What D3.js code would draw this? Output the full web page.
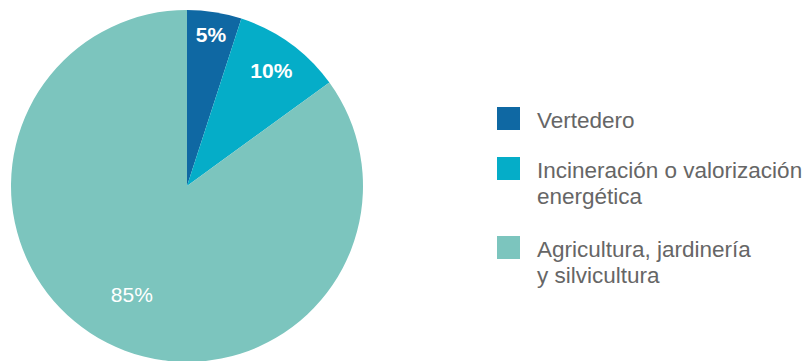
<!DOCTYPE html>
<html>
<head>
<meta charset="utf-8">
<script src="https://cdn.jsdelivr.net/npm/d3@7"></script>
<style>
  html, body { margin: 0; padding: 0; background: #fff; }
  svg { display: block; }
</style>
</head>
<body>
<svg id="chart" width="810" height="361"></svg>
<script>
// Destination shares (percent)
const categories = ["Vertedero", "Incineración o valorización energética", "Agricultura, jardinería y silvicultura"];
const values = [5, 10, 85];
const legendLines = [["Vertedero"], ["Incineración o valorización", "energética"], ["Agricultura, jardinería", "y silvicultura"]];
const colors = ["#0f68a3", "#05adc8", "#7cc5be"];

const svg = d3.select("#chart");
const cx = 187, cy = 186, radius = 176;
// radial position of each percentage label, as a fraction of the radius
const labelFrac = [0.87, 0.815, 0.69];
const labelBold = [true, true, false];

const pie = d3.pie().sort(null).value(d => d)(values);
const arc = d3.arc().innerRadius(0).outerRadius(radius);

const g = svg.append("g").attr("transform", `translate(${cx},${cy})`);

g.selectAll("path.slice")
  .data(pie)
  .join("path")
  .attr("class", "slice")
  .attr("d", arc)
  .attr("fill", (d, i) => colors[i]);

g.selectAll("text.pct")
  .data(pie)
  .join("text")
  .attr("class", "pct")
  .attr("transform", (d, i) => {
    const a = (d.startAngle + d.endAngle) / 2;
    const r = radius * labelFrac[i];
    return `translate(${Math.sin(a) * r},${-Math.cos(a) * r})`;
  })
  .attr("text-anchor", "middle")
  .attr("dy", "0.36em")
  .attr("fill", "#fff")
  .attr("font-family", "'Liberation Sans', Arial, sans-serif")
  .attr("font-size", 21)
  .attr("font-weight", (d, i) => labelBold[i] ? "bold" : "normal")
  .text(d => d.data + "%");

// Legend
const legendX = 497;
const itemY = [107, 157, 236];
const legend = svg.append("g");
categories.forEach((c, i) => {
  const item = legend.append("g").attr("transform", `translate(${legendX},${itemY[i]})`);
  item.append("rect")
    .attr("width", 23).attr("height", 23)
    .attr("fill", colors[i]);
  const t = item.append("text")
    .attr("x", 40)
    .attr("y", 21)
    .attr("fill", "#666")
    .attr("font-family", "'Liberation Sans', Arial, sans-serif")
    .attr("font-size", 22.5);
  legendLines[i].forEach((line, j) => {
    t.append("tspan").attr("x", 40).attr("dy", j === 0 ? 0 : 26).text(line);
  });
});
</script>
</body>
</html>
